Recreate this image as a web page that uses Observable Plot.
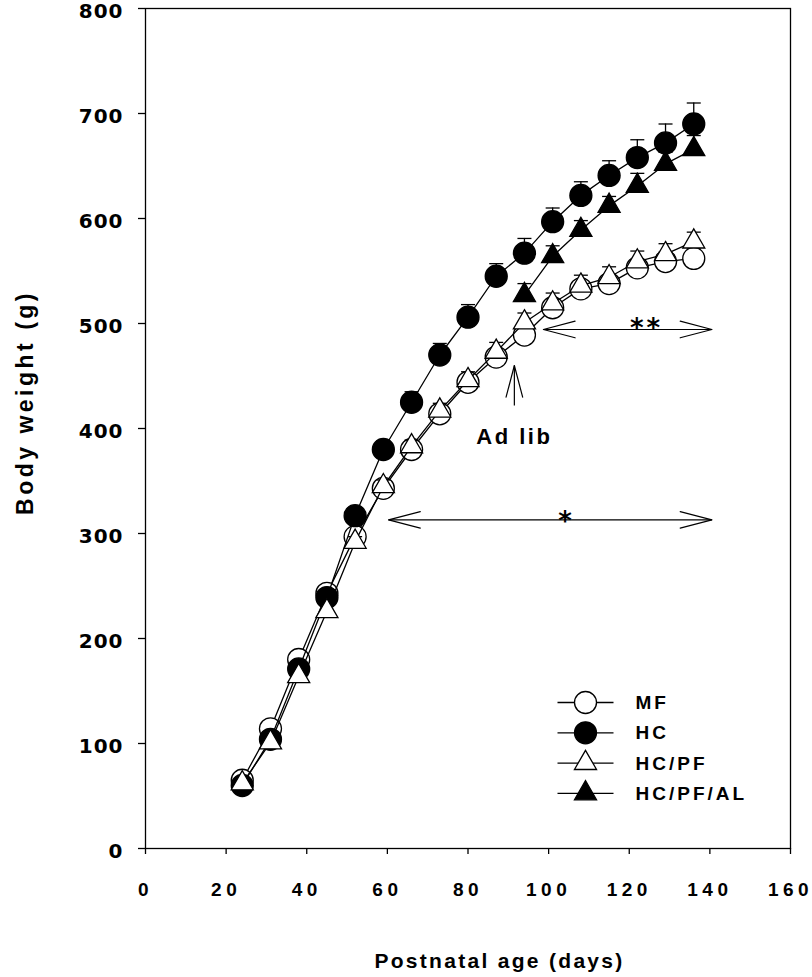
<!DOCTYPE html>
<html><head><meta charset="utf-8">
<script src="https://cdn.jsdelivr.net/npm/d3@7"></script>
<script src="https://cdn.jsdelivr.net/npm/@observablehq/plot@0.6"></script>
<style>
body{margin:0;background:#fff}
g[aria-label="x-axis tick label"] text{font:bold 19px "Liberation Sans";letter-spacing:4.5px}
g[aria-label="y-axis tick label"] text{font:bold 20px "DejaVu Sans";letter-spacing:1px}
</style>
</head><body><div id="chart"></div>
<script>
// ---- data ----
const days = [24,31,38,45,52,59,66,73,80,87,94,101,108,115,122,129,136];
const mfWeight = [65,114,180,243,297,343,380,414,444,468,489,515,533,538,553,559,562];
const mfSem    = [3,3,4,5,5,6,6,7,7,7,7,8,8,8,8,9,9];
const hcWeight = [60,104,171,239,317,380,425,470,506,545,567,597,622,641,658,672,690];
const hcSem    = [3,3,4,5,6,8,10,11,12,12,14,13,13,14,17,18,20];
const pfWeight = [62,101,164,226,292,345,383,417,446,473,501,519,536,544,559,566,578];
const pfSem    = [3,3,4,5,5,6,6,7,8,9,9,10,10,10,10,10,9];
const alDays   = [94,101,108,115,122,129,136];
const alWeight = [527,564,589,612,631,652,666];
const alSem    = [11,10,9,9,12,11,13];

const seriesNames = ["MF","HC","HC/PF","HC/PF/AL"];
const xTicks = [0,20,40,60,80,100,120,140,160];
const yTicks = [0,100,200,300,400,500,600,700,800];

// annotations (data units)
const sigArrowX1 = [60.3, 98.7];
const sigArrowX2 = [140.5, 140.5];
const sigArrowY  = [313, 494.3];
const sigLabels  = ["*", "**"];
const sigLabelX  = [104.1, 124.3];
const sigLabelY  = [303, 486.7];
const adLibX = [91.5];
const adLibY1 = [422];
const adLibY2 = [460];
const adLibText = ["Ad lib"];
const adLibTextY = [385.7];

// ---- build ----
const styles = [
  {symbol: "circle",   r: 11,  fill: "white"},
  {symbol: "circle",   r: 11,  fill: "black"},
  {symbol: "triangle", r: 8.2, fill: "white"},
  {symbol: "triangle", r: 8.2, fill: "black"}
];
const seriesData = [
  [days, mfWeight, mfSem],
  [days, hcWeight, hcSem],
  [days, pfWeight, pfSem],
  [alDays, alWeight, alSem]
];
const capSymbol = {draw(ctx){ ctx.moveTo(-7,0); ctx.lineTo(7,0); }};
const legendLine = {draw(ctx){ ctx.moveTo(-28,0); ctx.lineTo(28,0); }};
const vHead = {draw(ctx){ ctx.moveTo(-8.3,31.7); ctx.lineTo(0,0); ctx.lineTo(8.3,31.7); }};
const SW = 1.3;

const marks = [];
marks.push(Plot.frame({stroke:"black", strokeWidth:SW}));
marks.push(Plot.axisX(xTicks, {tickSize:6, tickPadding:28, label:null, strokeWidth:SW, fontSize:19, fontWeight:"bold", fontFamily:"Liberation Sans"}));
marks.push(Plot.axisY(yTicks, {tickSize:7, label:null, strokeWidth:SW, fill:"none"}));
marks.push(Plot.axisY(yTicks, {tickSize:0, tickPadding:22, label:null, dy:3.5, fontSize:20, fontWeight:"bold", fontFamily:"DejaVu Sans"}));

seriesData.forEach(([xs, ys, es], k) => {
  const rows = xs.map((x,i) => ({x, y: ys[i], e: es[i]}));
  const st = styles[k];
  marks.push(Plot.line(rows, {x:"x", y:"y", stroke:"black", strokeWidth:SW}));
  marks.push(Plot.ruleX(rows, {x:"x", y1:"y", y2:d=>d.y+d.e, stroke:"black", strokeWidth:SW}));
  marks.push(Plot.dot(rows, {x:"x", y:d=>d.y+d.e, symbol:capSymbol, fill:"none", stroke:"black", strokeWidth:SW}));
  marks.push(Plot.dot(rows, {x:"x", y:"y", symbol:st.symbol, r:st.r, fill:st.fill, stroke:"black", strokeWidth:SW}));
});

// significance arrows
const sigRows = sigArrowY.map((y,i) => ({x1: sigArrowX1[i], x2: sigArrowX2[i], y}));
marks.push(Plot.link(sigRows, {x1:"x1", x2:"x2", y1:"y", y2:"y", stroke:"black", strokeWidth:1.2}));
const heads = [];
sigRows.forEach(r => { heads.push({x:r.x1, y:r.y, a:-90}); heads.push({x:r.x2, y:r.y, a:90}); });
adLibX.forEach((x,i) => heads.push({x, y: adLibY2[i], a:0}));
marks.push(Plot.vector(heads, {x:"x", y:"y", rotate:"a", anchor:"start", shape:vHead, stroke:"black", strokeWidth:1.2}));
const adRows = adLibX.map((x,i) => ({x, y1: adLibY1[i], y2: adLibY2[i]}));
marks.push(Plot.link(adRows, {x1:"x", x2:"x", y1:"y1", y2:"y2", stroke:"black", strokeWidth:1.2}));
marks.push(Plot.text(sigLabels.map((t,i)=>({t, x:sigLabelX[i], y:sigLabelY[i]})), {x:"x", y:"y", text:"t", lineAnchor:"bottom", fontSize:26, fontWeight:"bold", fontFamily:"DejaVu Sans", fill:"black"}));
marks.push(Plot.text(adLibText.map((t,i)=>({t, x:adLibX[i], y:adLibTextY[i]})), {x:"x", y:"y", text:"t", lineAnchor:"bottom", fontSize:22, fontWeight:"bold", fontFamily:"Liberation Sans", fill:"black"}));

// legend
seriesNames.forEach((name, i) => {
  const st = styles[i];
  const dy = 694 + 30.3*i;
  marks.push(Plot.dot([0], {frameAnchor:"top-left", dx:440, dy, symbol:legendLine, fill:"none", stroke:"black", strokeWidth:SW}));
  marks.push(Plot.dot([0], {frameAnchor:"top-left", dx:440, dy, symbol:st.symbol, r:st.r, fill:st.fill, stroke:"black", strokeWidth:SW}));
  marks.push(Plot.text([name], {frameAnchor:"top-left", dx:490, dy: dy+6.5, textAnchor:"start", lineAnchor:"bottom", fontSize:19, fontWeight:"bold", fontFamily:"Liberation Sans", fill:"black"}));
});

// axis titles
marks.push(Plot.text(["Postnatal age (days)"], {frameAnchor:"bottom", dx:31.5, dy:119, textAnchor:"middle", lineAnchor:"bottom", fontSize:21, fontWeight:"bold", fontFamily:"Liberation Sans", fill:"black"}));
marks.push(Plot.text(["Body weight (g)"], {frameAnchor:"left", rotate:-90, dx:-113, dy:-26, textAnchor:"middle", lineAnchor:"bottom", fontSize:23, fontWeight:"bold", fontFamily:"Liberation Sans", fill:"black"}));

const chart = Plot.plot({
  width: 812, height: 977,
  marginLeft: 145, marginRight: 22, marginTop: 8, marginBottom: 129,
  x: {domain:[0,160]},
  y: {domain:[0,800]},
  style: {background:"white", color:"black"},
  marks
});
const spacing = {"Postnatal age (days)":2.3, "Body weight (g)":3.5, "Ad lib":2.5, "**":3, "MF":3, "HC":3, "HC/PF":3, "HC/PF/AL":3};
d3.select(chart).selectAll("text").each(function(){
  const s = spacing[this.textContent];
  if (s != null) this.setAttribute("letter-spacing", s + "px");
});
document.getElementById("chart").appendChild(chart);
</script>
</body></html>
